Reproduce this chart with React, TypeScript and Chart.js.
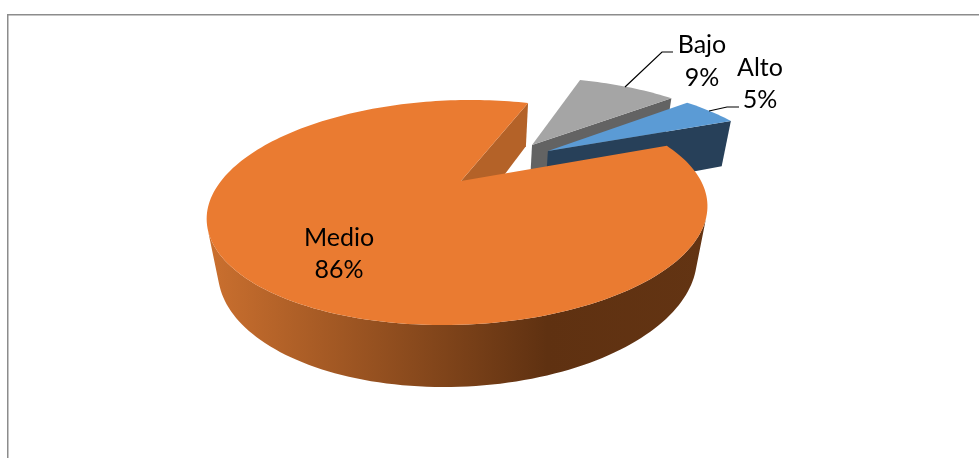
import React, { useEffect, useRef } from "react";
import { Chart, registerables } from "chart.js";

Chart.register(...registerables);

const categories = ["Alto", "Medio", "Bajo"];
const percentages = [5, 86, 9];
const topColors = ["#5B9BD5", "#EA7B31", "#A5A5A5"];
const cutFaceColors = ["#274059", "#B46228", "#636363"];
const firstSliceAngle = 50;

// Perspective model of the tilted pie: disc coordinates (u, v) -> screen.
const VIEW = { tx: 461, ty: 181, r: 240, s: 103.7, shear: -13, p: 0.28, depth: 53.3, q: 0.042 };
// In-plane explosion of each slice, in disc radii.
const EXPLODE: [number, number][] = [[0.377, -0.315], [0, 0], [0.307, -0.384]];
const LABEL_SPOTS = [
  { x: 760, y1: 76, y2: 108, leader: [[739, 107], [727, 107], [709, 111]] },
  { x: 339, y1: 246, y2: 278, leader: [] as number[][] },
  { x: 702, y1: 53, y2: 86, leader: [[673, 52], [662, 52], [625, 87]] },
];

type P = [number, number];
const project = (u: number, v: number, bottom: boolean): P => {
  const w = 1 - VIEW.p * v + (bottom ? VIEW.q : 0);
  return [
    VIEW.tx + (VIEW.r * u + VIEW.shear * v) / w,
    VIEW.ty + (VIEW.s * v + (bottom ? VIEW.depth : 0)) / w,
  ];
};

const pie3d = {
  id: "pie3d",
  beforeDraw(chart: any) {
    const ctx = chart.ctx;
    ctx.save();
    ctx.fillStyle = "#8C8C8C";
    ctx.fillRect(7, 14, 972, 1.5);
    ctx.fillRect(7, 14, 1.5, 444);
    ctx.restore();
  },
  beforeDatasetsDraw(chart: any) {
    const ctx = chart.ctx;
    const arcs = chart.getDatasetMeta(0).data;
    const wall = ctx.createLinearGradient(207, 0, 707, 0);
    wall.addColorStop(0, "#CB702F");
    wall.addColorStop(0.68, "#5F3111");
    wall.addColorStop(1, "#633413");

    // Painted back to front: Bajo, Alto, Medio.
    [2, 0, 1].forEach((i) => {
      const el = arcs[i];
      const { startAngle, endAngle } = el.getProps(["startAngle", "endAngle"], true);
      const [ox, oy] = EXPLODE[i];
      const outline: [number, number][] = [];
      const steps = Math.max(4, Math.ceil((endAngle - startAngle) / (Math.PI / 120)));
      for (let k = 0; k <= steps; k++) {
        const a = startAngle + ((endAngle - startAngle) * k) / steps;
        outline.push([ox + Math.cos(a), oy + Math.sin(a)]);
      }
      outline.push([ox, oy]);

      // Walls facing the viewer, one path per surface so no seams show.
      const paintWalls = (first: number, last: number, style: any) => {
        ctx.beginPath();
        let any = false;
        for (let k = first; k <= last; k++) {
          const a = outline[k];
          const b = outline[(k + 1) % outline.length];
          const a0 = project(a[0], a[1], false);
          const b0 = project(b[0], b[1], false);
          const b1 = project(b[0], b[1], true);
          const a1 = project(a[0], a[1], true);
          const area =
            (b0[0] - a0[0]) * (a1[1] - a0[1]) - (b0[1] - a0[1]) * (a1[0] - a0[0]);
          if (area >= 0) continue;
          any = true;
          ctx.moveTo(a0[0], a0[1]);
          ctx.lineTo(b0[0], b0[1]);
          ctx.lineTo(b1[0], b1[1]);
          ctx.lineTo(a1[0], a1[1]);
          ctx.closePath();
        }
        if (any) {
          ctx.fillStyle = style;
          ctx.fill();
        }
      };
      paintWalls(0, outline.length - 3, i === 1 ? wall : cutFaceColors[i]);
      paintWalls(outline.length - 2, outline.length - 1, cutFaceColors[i]);

      // Top surface.
      ctx.beginPath();
      outline.forEach(([u, v], k) => {
        const [x, y] = project(u, v, false);
        if (k === 0) ctx.moveTo(x, y);
        else ctx.lineTo(x, y);
      });
      ctx.closePath();
      ctx.fillStyle = el.options.backgroundColor;
      ctx.fill();
    });
    return false;
  },
  afterDraw(chart: any) {
    const ctx = chart.ctx;
    const labels = chart.data.labels;
    const values = chart.data.datasets[0].data;
    ctx.save();
    ctx.fillStyle = "#000";
    ctx.strokeStyle = "#000";
    ctx.lineWidth = 1.2;
    ctx.textAlign = "center";
    ctx.textBaseline = "alphabetic";
    ctx.font = '25px Lato, "Open Sans", sans-serif';
    LABEL_SPOTS.forEach((spot, i) => {
      ctx.fillText(labels[i], spot.x, spot.y1);
      ctx.fillText(`${values[i]}%`, spot.x, spot.y2);
      if (spot.leader.length) {
        ctx.beginPath();
        spot.leader.forEach(([x, y], k) => (k ? ctx.lineTo(x, y) : ctx.moveTo(x, y)));
        ctx.stroke();
      }
    });
    ctx.restore();
  },
};

export default function App() {
  const ref = useRef<HTMLCanvasElement>(null);
  useEffect(() => {
    const chart = new Chart(ref.current!, {
      type: "pie",
      data: {
        labels: categories,
        datasets: [{ data: percentages, backgroundColor: topColors, borderWidth: 0 }],
      },
      options: {
        responsive: false,
        animation: false,
        rotation: firstSliceAngle,
        plugins: { legend: { display: false }, tooltip: { enabled: false } },
      },
      plugins: [pie3d],
    } as any);
    return () => chart.destroy();
  }, []);
  return (
    <div style={{ position: "fixed", left: 0, top: 0, width: 979, height: 458, background: "#fff" }}>
      <canvas ref={ref} width={979} height={458} style={{ display: "block" }} />
    </div>
  );
}
